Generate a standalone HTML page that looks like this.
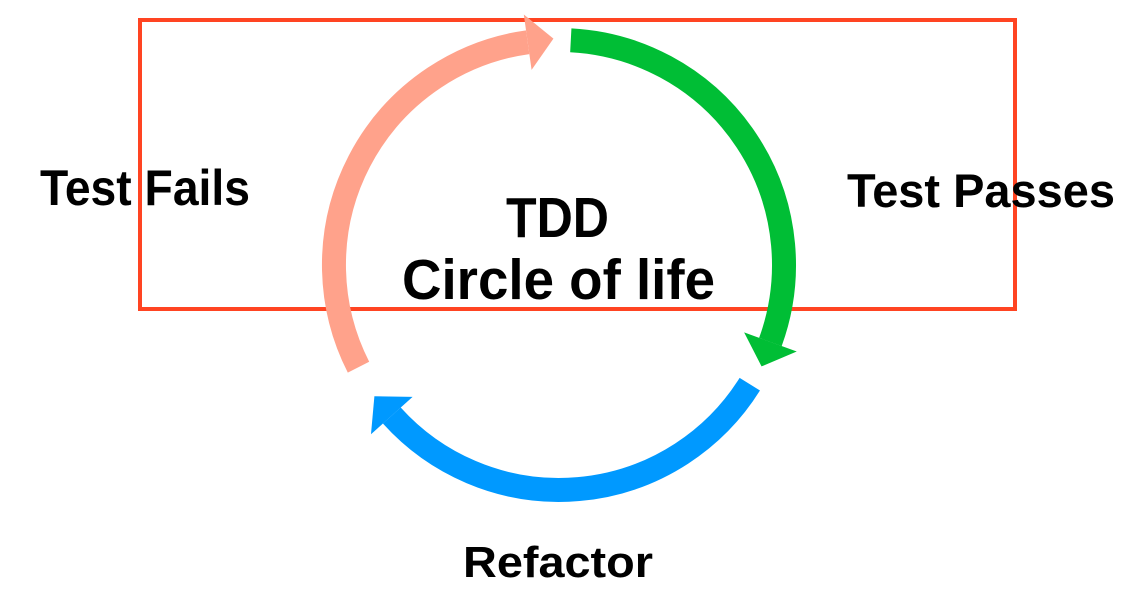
<!DOCTYPE html>
<html><head><meta charset="utf-8"><style>
html,body{margin:0;padding:0;background:#fff;}
svg{display:block;}
text{font-family:"Liberation Sans","DejaVu Sans",sans-serif;font-weight:bold;fill:#000;}
</style></head><body>
<svg width="1147" height="606" viewBox="0 0 1147 606" xmlns="http://www.w3.org/2000/svg">
<rect x="140" y="20" width="875" height="289" fill="none" stroke="#FF4422" stroke-width="4"/>
<g fill="none" stroke-width="24" stroke-linecap="butt">
<path d="M570.8 40.3 A225 225 0 0 1 770.4 342" stroke="#00BE35"/>
<path d="M749.8 384.2 A225 225 0 0 1 391.8 415.5" stroke="#0099FF"/>
<path d="M358.5 367.2 A225 225 0 0 1 527.7 42.2" stroke="#FFA28B"/>
</g>
<polygon points="559,12 559,68 585,40" fill="#FFA28B" transform="rotate(-8 559 265)"/>
<polygon points="559,12 559,68 585,40" fill="#00BE35" transform="rotate(110 559 265)"/>
<polygon points="559,12 559,68 585,40" fill="#0099FF" transform="rotate(228 559 265)"/>
<text x="40" y="205" font-size="50" textLength="210" lengthAdjust="spacingAndGlyphs">Test Fails</text>
<text x="847" y="207" font-size="47" textLength="268" lengthAdjust="spacingAndGlyphs">Test Passes</text>
<text x="506" y="237" font-size="57" textLength="103" lengthAdjust="spacingAndGlyphs">TDD</text>
<text x="402" y="299" font-size="57" textLength="313" lengthAdjust="spacingAndGlyphs">Circle of life</text>
<text x="463" y="577" font-size="44" textLength="190" lengthAdjust="spacingAndGlyphs">Refactor</text>
</svg>
</body></html>
